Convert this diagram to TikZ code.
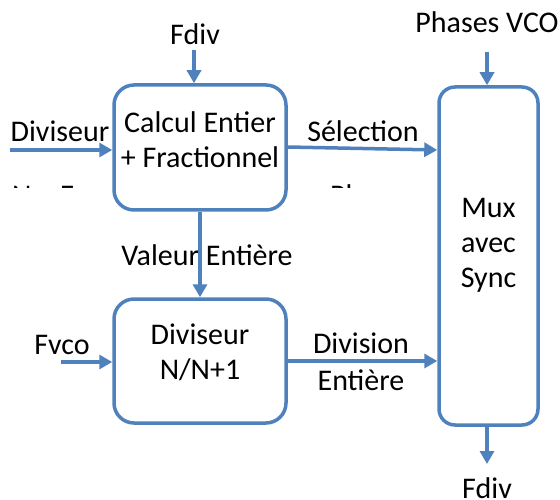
\documentclass[tikz,border=0pt]{standalone}
\usepackage{fontspec}
\setmainfont{Carlito}
\usepackage{tikz}
\usetikzlibrary{arrows.meta,positioning}
\definecolor{blocblue}{RGB}{79,129,189}

\begin{document}
\begin{tikzpicture}[x=1pt, y=-1pt,
    every node/.style={font=\fontsize{30}{35}\selectfont, inner sep=0pt},
    bloc/.style={draw=blocblue, line width=3.5pt, rounded corners=20pt, rectangle},
    flow/.style={draw=blocblue, line width=3.5pt, -{Triangle[length=13pt,width=14pt]}},
    txt/.style={align=center}]
  \useasboundingbox (0,0) rectangle (560,500);
  % blocs
  \node[bloc, minimum width=172pt, minimum height=125pt] (calc) at (200,147.5) {};
  \node[bloc, minimum width=172pt, minimum height=124pt] (divn) at (200,361) {};
  \node[bloc, rounded corners=16pt, minimum width=99pt, minimum height=338pt] (mux) at (488.5,256) {};
  \node[txt] (calctxt) at ([yshift=8pt]calc.center) {Calcul Entier\\+ Fractionnel};
  \node[txt] (divntxt) at ([yshift=9pt]divn.center) {Diviseur\\N/N+1};
  \node[txt] (muxtxt) at ([yshift=11pt]mux.center) {Mux\\avec\\Sync};
  % labels
  \node (fdivin) at (195,34) {Fdiv};
  \node (divin) at (60,131) {Diviseur};
  \node (sel) at (363,131) {Sélection};
  \node (valent) at (207,255) {Valeur Entière};
  \node (fvco) at (62,345) {Fvco};
  \node (divis) at (361,343) {Division};
  \node (entiere) at (361,380) {Entière};
  \node (phases) at (487,22) {Phases VCO};
  \node (fdivout) at (487,488) {Fdiv};
  % coordinates for free ends
  \coordinate (fdivstart) at (194,50);
  \coordinate (divstart) at (10,150);
  \coordinate (fvcostart) at (61,362);
  \coordinate (phstart) at (487,52);
  \coordinate (fdivend) at (487,464);
  % connectors
  \draw[flow] (fdivstart) -- (fdivstart |- calc.north);
  \draw[flow] (divstart) -- (divstart -| calc.west);
  \draw[flow] (calc.east |- 0,147) -- (mux.west |- 0,150);
  \draw[flow] (calc.south) -- (divn.north);
  \draw[flow] (fvcostart) -- (fvcostart -| divn.west);
  \draw[flow] (divn.east |- 0,361) -- (mux.west |- 0,361);
  \draw[flow] (phstart) -- (phstart |- mux.north);
  \draw[flow] (fdivend |- mux.south) -- (fdivend);
  % clipped leftover text
  \begin{scope}
    \clip (0,184) rectangle (420,188);
    \node[anchor=base west] (restn) at (12,205) {N = F};
    \node[anchor=base west] (restph) at (330,205) {Phase};
  \end{scope}
\end{tikzpicture}
\end{document}
